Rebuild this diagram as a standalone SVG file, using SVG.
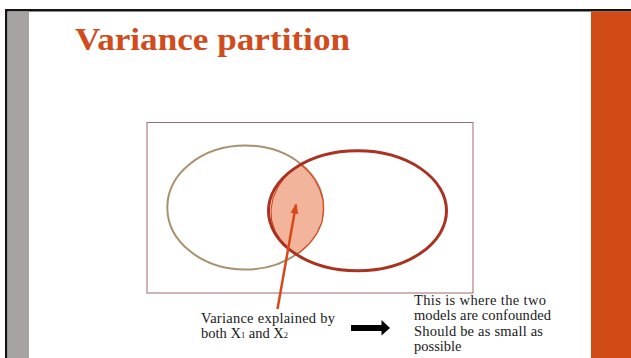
<svg xmlns="http://www.w3.org/2000/svg" width="631" height="358" viewBox="0 0 631 358">
  <style>
    .title { font-family: "Liberation Serif", "DejaVu Serif", serif; font-weight: bold; font-size: 32px; fill: #d14b1c; }
    .body { font-family: "Liberation Serif", "DejaVu Serif", serif; font-size: 14.5px; fill: #1a1a1a; }
    .sub { font-size: 8.5px; }
  </style>
  <defs>
    <marker id="orangeHead" markerWidth="10" markerHeight="10" refX="9" refY="5" orient="auto" markerUnits="userSpaceOnUse">
      <path d="M0,1 L10,5 L0,9 Z" fill="#d9481a"/>
    </marker>
  </defs>

  <!-- slide frame -->
  <g id="frame">
    <rect x="0" y="0" width="631" height="358" fill="#ffffff"/>
    <rect x="5" y="9" width="626" height="2.5" fill="#141414"/>
    <rect x="5" y="9" width="2.5" height="349" fill="#141414"/>
    <rect x="7.5" y="11.5" width="21.5" height="346.5" fill="#a7a3a2"/>
    <rect x="591" y="11.5" width="40" height="346.5" fill="#d14b17"/>
  </g>

  <g id="title">
    <text class="title" x="75" y="50" textLength="275" lengthAdjust="spacingAndGlyphs">Variance partition</text>
  </g>

  <g id="box">
    <rect x="147" y="122.5" width="326" height="170.5" fill="none" stroke="#a26b6b" stroke-width="1"/>
  </g>

  <g id="ellipse-x1">
    <ellipse cx="245.3" cy="207.5" rx="78" ry="62" fill="none" stroke="#a8916e" stroke-width="2"/>
  </g>

  <g id="overlap">
    <path d="M301,164.5 L308,171 L315,180 L320,190 L323,200 L323.5,210 L322,222 L317,233 L309,244 L300,252 L296,254 L289,249 L281,241 L275,231 L271.5,220 L271,209 L273,198 L278,187 L285,177 L293,169 Z" fill="#f3b49c" stroke="#d9481a" stroke-width="1.2" stroke-linejoin="round"/>
  </g>

  <g id="ellipse-x2">
    <ellipse cx="357.5" cy="210.8" rx="89" ry="60" fill="none" stroke="#a93221" stroke-width="3"/>
  </g>

  <g id="label-both">
    <text class="body" x="201" y="323" textLength="134" lengthAdjust="spacing">Variance explained by</text>
    <text class="body" x="201" y="338">both X<tspan class="sub">1</tspan> and X<tspan class="sub">2</tspan></text>
  </g>

  <g id="label-note">
    <text class="body" x="414" y="304.5" textLength="132" lengthAdjust="spacing">This is where the two</text>
    <text class="body" x="414" y="320" textLength="137" lengthAdjust="spacing">models are confounded</text>
    <text class="body" x="414" y="335.5" textLength="129" lengthAdjust="spacing">Should be as small as</text>
    <text class="body" x="414" y="351">possible</text>
  </g>

  <g id="connectors">
    <line x1="277.5" y1="309" x2="296" y2="204.5" stroke="#d9481a" stroke-width="2.5" marker-end="url(#orangeHead)"/>
    <path d="M351,325 L381.5,325 L381.5,320 L390,328 L381.5,335.5 L381.5,331 L351,331 Z" fill="#000000"/>
  </g>
</svg>
